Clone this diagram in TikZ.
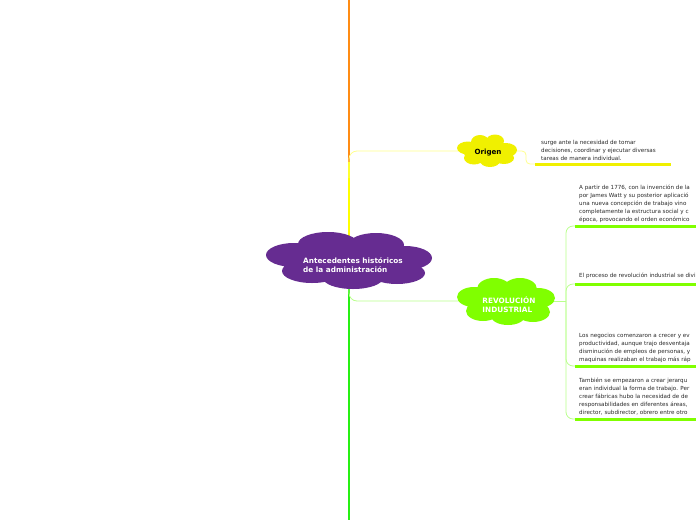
\documentclass[tikz,border=0pt]{standalone}
\usepackage{fontspec}
\setmainfont{DejaVu Sans}
\definecolor{cpurple}{RGB}{102,44,145}
\definecolor{cyellow}{RGB}{240,240,0}
\definecolor{cgreen}{RGB}{128,255,0}
\definecolor{vorange}{RGB}{255,140,20}
\definecolor{vyellow}{RGB}{255,255,0}
\definecolor{vgreen}{RGB}{40,240,20}
\definecolor{paleyellow}{RGB}{255,255,140}
\definecolor{palegreen}{RGB}{185,255,140}
\definecolor{txt}{RGB}{40,40,40}
\tikzset{
  trunk/.style={line width=2pt},
  thin/.style={line width=0.8pt, rounded corners=8pt},
  uline/.style={line width=3pt},
  small/.style={inner sep=0pt, anchor=north west, align=left, text=txt,
    font=\fontsize{5.6}{8}\selectfont},
  cloudtext/.style={inner sep=0pt, align=left, font=\fontsize{7.3}{9}\selectfont\bfseries}
}
\begin{document}
\begin{tikzpicture}[x=1pt,y=-1pt]
\useasboundingbox (0,0) rectangle (696,520);
% coordinates
\coordinate (top) at (349,0);
\coordinate (split) at (349,162);
\coordinate (rootN) at (349,240);
\coordinate (rootS) at (349,286);
\coordinate (bottom) at (349,520);
\coordinate (oW) at (458,151);
\coordinate (oE) at (516,151);
\coordinate (oU) at (535,164);
\coordinate (oUend) at (671,164);
\coordinate (rW) at (458,301);
\coordinate (rE) at (554,301);
\coordinate (bx) at (566,301);
% trunk
\draw[trunk, vorange] (top) -- (split);
\draw[trunk, vyellow] (split) -- (rootN);
\draw[trunk, vgreen] (rootS) -- (bottom);
% connectors
\draw[thin, paleyellow] (349,178) |- (oW);
\draw[thin, palegreen] (349,284) |- (rW);
\draw[paleyellow, line width=0.8pt, rounded corners=4pt] (oE) -- (526,151) -- (526,164) -- (oU);
\draw[uline, cyellow] (oU) -- (oUend);
\draw[palegreen, line width=0.8pt] (rE) -- (bx);
\foreach \y in {226,284,366,419}{
  \draw[palegreen, line width=0.8pt, rounded corners=7pt] (bx) |- (575,\y);
  \draw[uline, cgreen] (575,\y) -- (700,\y);
}
% clouds
\fill[cpurple] (349,260) ellipse [x radius=62, y radius=20]
  (328,244) ellipse [x radius=30, y radius=12]
  (376,245) ellipse [x radius=28, y radius=12]
  (294,255) ellipse [x radius=28, y radius=12]
  (405,258) ellipse [x radius=27, y radius=12]
  (312,271) ellipse [x radius=30, y radius=12]
  (353,278) ellipse [x radius=30, y radius=11]
  (397,273) ellipse [x radius=28, y radius=11];
\fill[cyellow] (487,151) ellipse [x radius=24, y radius=11]
  (480,142) ellipse [x radius=9, y radius=7]
  (495,141) ellipse [x radius=9, y radius=6.5]
  (468,148) ellipse [x radius=11, y radius=6.5]
  (506,150) ellipse [x radius=11, y radius=7]
  (474,158) ellipse [x radius=10, y radius=6.5]
  (490,161) ellipse [x radius=10, y radius=6]
  (504,158) ellipse [x radius=10, y radius=6];
\fill[cgreen] (506,301) ellipse [x radius=38, y radius=16]
  (494,289) ellipse [x radius=17, y radius=11]
  (520,289) ellipse [x radius=17, y radius=11]
  (474,297) ellipse [x radius=17, y radius=10]
  (538,298) ellipse [x radius=17, y radius=10]
  (483,311) ellipse [x radius=17, y radius=10]
  (508,316) ellipse [x radius=17, y radius=9]
  (533,312) ellipse [x radius=17, y radius=10];
% cloud texts
\node[cloudtext, text=white] (root) at (353,265) {Antecedentes históricos\\de la administración};
\node[cloudtext, text=black, font=\fontsize{7.1}{9}\selectfont\bfseries] (origen) at (488,153) {Origen};
\node[cloudtext, text=white] (revo) at (509,305) {REVOLUCIÓN\\INDUSTRIAL};
% texts
\node[small] (t0) at (541,140) {surge ante la necesidad de tomar\\decisiones, coordinar y ejecutar diversas\\tareas de manera individual.};
\node[small] (t1) at (579,185) {A partir de 1776, con la invención de la\\por James Watt y su posterior aplicació\\una nueva concepción de trabajo vino\\completamente la estructura social y c\\época, provocando el orden económico};
\node[small] (t2) at (579,273) {El proceso de revolución industrial se divi};
\node[small] (t3) at (579,333) {Los negocios comenzaron a crecer y ev\\productividad, aunque trajo desventaja\\disminución de empleos de personas, y\\maquinas realizaban el trabajo más ráp};
\node[small] (t4) at (579,378) {También se empezaron a crear jerarqu\\eran individual la forma de trabajo. Per\\crear fábricas hubo la necesidad de de\\responsabilidades en diferentes áreas,\\director, subdirector, obrero entre otro};
\end{tikzpicture}
\end{document}
